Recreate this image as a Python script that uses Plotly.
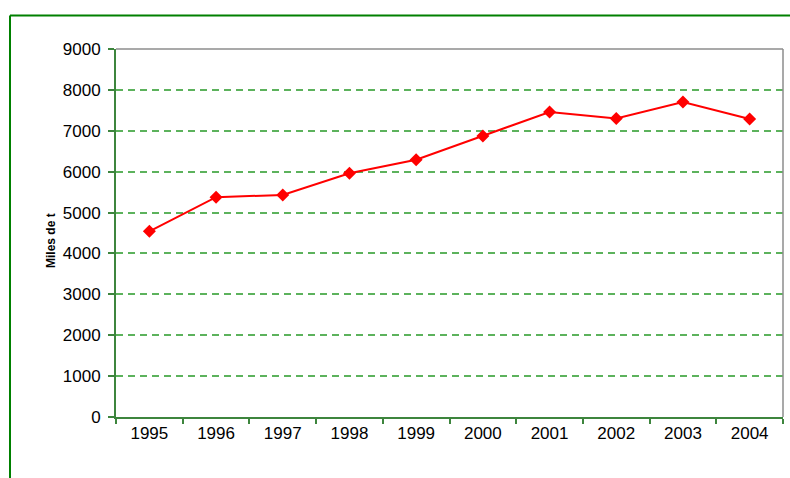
import plotly.graph_objects as go

# Annual production, thousands of tonnes
years = ["1995", "1996", "1997", "1998", "1999", "2000", "2001", "2002", "2003", "2004"]
values = [4540, 5375, 5430, 5960, 6290, 6870, 7460, 7300, 7705, 7290]
y_ticks = [0, 1000, 2000, 3000, 4000, 5000, 6000, 7000, 8000, 9000]

W, H = 790, 478
L, R, T, B = 116, 7, 49, 61
pw, ph = W - L - R, H - T - B


def px_x(p):
    return (p - L) / pw


def px_y(p):
    return (H - B - p) / ph


axis_green = "#3d853d"
grid_green = "#5cb25c"
font = dict(family="Liberation Sans, Arial, sans-serif", size=17, color="#000000")

fig = go.Figure()
fig.add_trace(go.Scatter(
    x=years,
    y=values,
    mode="lines+markers",
    line=dict(color="#ff0000", width=2),
    marker=dict(symbol="diamond", size=10, color="#ff0000"),
    showlegend=False,
    hoverinfo="x+y",
))

fig.update_layout(
    width=W,
    height=H,
    margin=dict(l=L, r=R, t=T, b=B),
    paper_bgcolor="white",
    plot_bgcolor="white",
    font=font,
    xaxis=dict(
        type="category",
        range=[-0.5, len(years) - 0.5],
        tickson="boundaries",
        ticks="outside",
        ticklen=5,
        tickwidth=1.5,
        tickcolor=axis_green,
        showline=True,
        linecolor=axis_green,
        linewidth=2,
        showgrid=False,
        zeroline=False,
        tickfont=font,
        fixedrange=True,
    ),
    yaxis=dict(
        range=[0, 9000],
        tickvals=y_ticks,
        ticktext=[str(v) for v in y_ticks],
        ticks="outside",
        ticklen=6,
        tickwidth=1.5,
        tickcolor=axis_green,
        showline=True,
        linecolor=axis_green,
        linewidth=2,
        showgrid=True,
        gridcolor=grid_green,
        gridwidth=1.5,
        griddash="7px,5px",
        zeroline=False,
        tickfont=font,
        ticklabelstandoff=4,
        fixedrange=True,
    ),
    annotations=[dict(
        text="<b>Miles de t</b>",
        x=px_x(42), y=px_y(241),
        xref="paper", yref="paper",
        showarrow=False,
        textangle=-90,
        font=dict(family="Liberation Sans Narrow, Liberation Sans, Arial, sans-serif",
                  size=12, color="#000000"),
    )],
    shapes=[
        # plot-area frame on the top and right edges
        dict(type="line", xref="paper", yref="paper", x0=0, x1=1, y0=1, y1=1,
             line=dict(color="#8c8c8c", width=1.5), layer="above"),
        dict(type="line", xref="paper", yref="paper", x0=1, x1=1, y0=0, y1=1,
             line=dict(color="#8c8c8c", width=1.5), layer="above"),
        # outer chart border
        dict(type="line", xref="paper", yref="paper",
             x0=px_x(10), x1=px_x(W + 5), y0=px_y(15.5), y1=px_y(15.5),
             line=dict(color="#008000", width=2)),
        dict(type="line", xref="paper", yref="paper",
             x0=px_x(10), x1=px_x(10), y0=px_y(15.5), y1=px_y(H + 5),
             line=dict(color="#008000", width=2)),
    ],
)

fig.write_html("out.html")
